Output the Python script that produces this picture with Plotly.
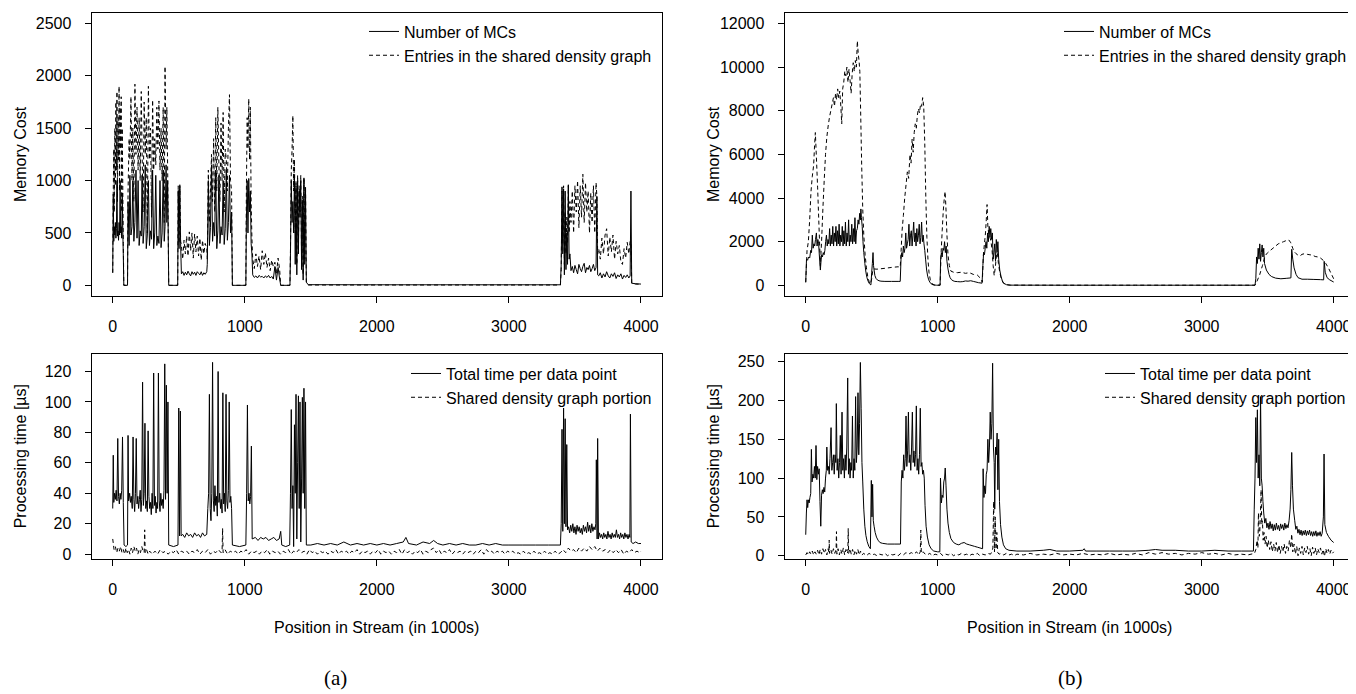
import plotly.graph_objects as go

# ---------------- data (x in 1000s of stream points) ----------------
# (a) memory cost
mem_a_mcs = [
 (0,120),(4,870),(8,420),(12,560),(16,480),(20,600),(24,450),(28,540),(32,1000),(36,470),
 (40,520),(44,430),(48,600),(52,480),(56,1000),(60,500),(64,560),(68,450),(72,880),(76,520),
 (80,300),(84,0),(112,0),
 (116,800),(124,380),(130,1050),(138,480),(146,560),(152,1000),(160,420),(168,600),(176,1100),(184,450),
 (192,1000),(200,380),(208,520),(216,470),(222,1050),(230,400),(238,560),(246,1150),(254,350),(262,480),
 (270,1000),(278,380),(286,520),(294,440),(302,1100),(310,350),(318,500),(326,1050),(334,380),(342,470),
 (350,400),(358,1000),(366,360),(374,500),(382,1100),(390,420),(396,560),(404,1150),(410,600),(416,1000),
 (424,0),(492,0),
 (496,900),(502,350),(508,950),(514,400),(520,110),
 (530,130),(540,95),(550,125),(560,100),(570,135),(580,110),(590,90),(600,130),(610,105),(620,125),
 (630,95),(640,130),(650,115),(660,100),(670,130),(680,95),(690,120),(700,105),(712,130),
 (716,200),(724,1000),(732,380),(740,550),(748,1150),(756,420),(764,600),(772,470),(780,1100),(788,350),
 (796,520),(804,1050),(812,400),(820,560),(828,480),(836,1000),(844,390),(852,540),(860,1100),(868,430),
 (876,600),(884,1050),(892,500),(900,700),
 (906,0),(1008,0),
 (1012,600),(1018,1000),(1024,500),(1030,1020),(1036,700),(1042,900),(1048,400),(1054,300),
 (1060,100),(1072,75),(1084,90),(1096,70),(1108,95),(1120,80),(1132,85),(1144,70),(1156,90),(1168,75),
 (1180,95),(1192,70),(1204,85),(1216,60),(1228,180),(1240,50),(1252,170),(1264,60),
 (1272,0),(1342,0),
 (1346,300),(1352,1000),(1358,600),(1364,800),(1370,500),(1376,1050),(1382,200),(1388,950),(1394,100),(1400,1000),
 (1406,300),(1412,900),(1418,650),(1424,1000),(1430,150),(1436,800),(1442,50),(1448,1020),(1454,200),(1460,900),
 (1466,30),(1480,6),(2000,5),(2500,5),(3000,5),(3390,5),
 (3396,200),(3402,940),(3408,300),(3414,920),(3420,100),(3426,900),(3432,150),(3438,500),(3444,200),(3450,960),
 (3456,250),(3462,300),
 (3470,140),(3480,180),(3490,120),(3500,190),(3510,150),(3520,110),(3530,200),(3540,160),(3550,130),(3560,180),
 (3570,210),(3580,120),(3590,170),(3600,150),(3610,190),(3620,130),(3630,160),(3640,200),(3650,140),(3660,170),
 (3666,850),(3672,100),
 (3680,90),(3692,120),(3704,70),(3716,110),(3728,80),(3740,130),(3752,90),(3764,70),(3776,110),(3788,85),
 (3800,120),(3812,65),(3824,100),(3836,80),(3848,110),(3860,60),(3872,95),(3884,75),(3896,100),(3908,70),
 (3918,90),(3924,900),(3930,20),(3960,15),(4000,12),
]
mem_a_sdg = [
 (0,120),(4,900),(8,1300),(12,700),(16,1500),(20,950),(24,1750),(28,1100),(32,1850),(36,800),
 (40,1600),(44,1200),(48,1900),(52,900),(56,1700),(60,1300),(64,1800),(68,700),(72,1500),(76,950),
 (80,400),(84,0),(112,0),
 (116,900),(124,1400),(130,1200),(138,1800),(146,1000),(152,1500),(160,800),(168,1920),(176,1250),(184,1700),
 (192,1100),(200,1600),(208,1000),(216,1850),(222,1300),(230,700),(238,1750),(246,1250),(254,1600),(262,500),
 (270,1900),(278,1200),(286,1500),(294,650),(302,1770),(310,1100),(318,1400),(326,1150),(334,1700),(342,1300),
 (350,1760),(358,1100),(366,1500),(374,1000),(382,1700),(390,600),(396,2090),(404,1300),(410,1700),(416,1100),
 (424,0),(492,0),
 (496,950),(502,400),(508,960),(514,420),(520,380),
 (530,250),(540,430),(550,300),(560,470),(570,280),(580,510),(590,330),(600,500),(610,260),(620,490),
 (630,320),(640,470),(650,280),(660,450),(670,240),(680,430),(690,300),(700,400),(712,350),
 (716,250),(724,1100),(732,600),(740,900),(748,1250),(756,800),(764,1400),(772,700),(780,1600),(788,900),
 (796,1700),(804,1150),(812,800),(820,1550),(828,1000),(836,1650),(844,700),(852,1300),(860,1200),(868,900),
 (876,1500),(884,1820),(892,1000),(900,900),
 (906,0),(1008,0),
 (1012,900),(1018,1600),(1024,1300),(1030,1780),(1036,1200),(1042,1700),(1048,800),(1054,450),
 (1060,250),(1072,160),(1084,300),(1096,180),(1108,280),(1120,150),(1132,330),(1144,200),(1156,310),(1168,170),
 (1180,260),(1192,140),(1204,240),(1216,180),(1228,220),(1240,110),(1252,260),(1264,150),
 (1272,0),(1342,0),
 (1346,350),(1352,1100),(1358,1300),(1364,1620),(1370,900),(1376,1200),(1382,500),(1388,1000),(1394,200),(1400,1050),
 (1406,400),(1412,950),(1418,700),(1424,1050),(1430,250),(1436,850),(1442,100),(1448,1030),(1454,250),(1460,950),
 (1466,30),(1480,3),(2000,3),(2500,3),(3000,3),(3390,3),
 (3396,150),(3402,900),(3408,400),(3414,950),(3420,200),(3426,700),(3432,300),(3438,650),(3444,400),(3450,950),
 (3456,500),(3462,800),
 (3470,600),(3480,900),(3490,500),(3500,950),(3510,700),(3520,1000),(3530,550),(3540,950),(3550,650),(3560,1060),
 (3570,600),(3580,980),(3590,700),(3600,900),(3610,500),(3620,880),(3630,600),(3640,950),(3650,500),(3660,980),
 (3666,850),(3672,300),
 (3680,350),(3692,250),(3704,450),(3716,300),(3728,480),(3740,540),(3752,280),(3764,460),(3776,320),(3788,480),
 (3800,250),(3812,420),(3824,300),(3836,380),(3848,220),(3860,200),(3872,350),(3884,260),(3896,410),(3908,300),
 (3918,420),(3924,400),(3930,20),(3960,12),(4000,10),
]

# (a) processing time
time_a_total = [
 (0,30),(4,65),(8,34),(14,40),(20,36),(26,42),(32,35),(38,76),(44,38),(50,33),
 (56,40),(62,36),(68,42),(74,77),(80,34),(86,6),(100,5),(112,6),
 (116,78),(120,35),(128,40),(134,34),(140,38),(148,30),(154,77),(160,36),(166,28),(172,40),
 (178,76),(184,33),(190,38),(196,30),(202,36),(208,42),(214,28),(220,36),(226,113),(232,32),
 (238,40),(244,86),(250,30),(256,35),(262,28),(268,81),(274,38),(280,30),(286,34),(292,26),
 (298,40),(304,30),(310,119),(316,32),(322,38),(328,27),(334,34),(340,30),(346,119),(352,35),
 (358,28),(364,40),(370,32),(376,36),(382,30),(388,42),(394,125),(400,36),(406,111),(412,40),
 (418,100),(424,6),(460,5),(494,6),
 (500,96),(506,12),(512,94),(518,12),
 (530,13),(545,11),(560,14),(575,12),(590,13),(605,11),(620,14),(635,12),(650,13),(665,11),
 (680,14),(695,12),(712,13),
 (720,30),(726,40),(732,105),(738,30),(744,22),(750,40),(756,126),(762,35),(768,28),(774,45),
 (780,32),(786,38),(792,25),(798,120),(804,34),(810,40),(816,30),(822,36),(828,27),(834,106),
 (840,33),(846,40),(852,28),(858,105),(864,35),(870,30),(876,42),(882,100),(888,34),(894,38),
 (900,30),(906,6),(960,5),(1008,6),
 (1014,40),(1020,98),(1026,35),(1032,40),(1038,33),(1044,38),(1050,71),
 (1056,10),(1080,11),(1100,9),(1120,11),(1140,10),(1160,11),(1180,9),(1200,10),(1220,11),(1240,9),
 (1260,10),(1272,15),(1280,6),(1310,5),(1340,6),
 (1346,40),(1352,95),(1358,30),(1364,45),(1370,5),(1376,85),(1382,40),(1388,105),(1394,10),(1400,60),
 (1406,104),(1412,30),(1418,100),(1424,8),(1430,50),(1436,103),(1442,40),(1448,109),(1454,30),(1460,100),
 (1466,6),
 (1500,6),(1550,7),(1600,6),(1650,7),(1700,6),(1750,8),(1800,6),(1850,7),(1900,6),(1950,7),
 (2000,6),(2050,7),(2100,6),(2150,7),(2200,8),(2220,11),(2240,7),(2300,6),(2350,8),(2400,7),
 (2430,9),(2460,7),(2500,6),(2550,7),(2600,6),(2650,7),(2700,6),(2750,6),(2800,7),(2850,6),
 (2900,7),(2950,6),(3000,6),(3100,6),(3200,6),(3300,6),(3390,6),
 (3396,20),(3402,82),(3408,15),(3414,96),(3420,20),(3426,89),(3432,18),(3438,72),(3444,16),
 (3452,18),(3460,14),(3468,19),(3476,15),(3484,20),(3492,14),(3500,18),(3508,13),(3516,19),(3524,15),
 (3532,18),(3540,14),(3548,17),(3556,13),(3564,19),(3572,15),(3580,18),(3588,14),(3596,21),(3604,15),
 (3612,19),(3620,14),(3628,20),(3636,15),(3644,18),(3652,16),(3658,20),(3662,62),(3668,10),(3672,76),
 (3678,10),(3686,14),(3694,11),(3702,13),(3710,10),(3718,14),(3726,11),(3734,13),(3742,10),(3750,15),
 (3758,11),(3766,13),(3774,10),(3782,14),(3790,11),(3798,13),(3806,11),(3814,16),(3822,11),(3830,13),
 (3838,10),(3846,14),(3854,11),(3862,13),(3870,10),(3878,14),(3886,11),(3894,13),(3902,10),(3910,13),
 (3916,11),(3920,92),(3926,8),(3940,7),(3960,8),(3980,7),(4000,7),
]
time_a_sdg = [
 (0,10),(10,3),(20,5),(30,1),(40,4),(50,2),(60,5),(70,1),(80,3),(90,0),(100,4),(110,1),(120,3),(130,0),
 (140,4),(150,1),(160,5),(170,2),(180,4),(190,0),(200,3),(210,1),(220,5),(230,2),(238,1),(242,16),(246,1),
 (256,3),(268,0),(280,2),(300,0),(320,2),(340,0),(360,3),(380,1),(400,2),(420,0),(440,2),(460,1),(480,3),
 (500,0),(520,2),(540,1),(560,2),(580,0),(600,2),(620,1),(640,3),(660,0),(680,2),(700,1),(720,3),(740,0),
 (760,2),(780,1),(800,3),(820,1),(828,2),(832,17),(836,1),(850,3),(870,0),(890,2),(910,1),(930,2),(950,0),
 (970,2),(990,1),(1010,3),(1030,0),(1050,2),(1070,1),(1090,2),(1110,0),(1130,2),(1150,1),(1170,3),(1190,0),
 (1210,2),(1230,1),(1250,2),(1270,0),(1290,2),(1310,1),(1330,3),(1350,0),(1370,2),(1390,1),(1410,3),(1430,1),
 (1450,2),(1470,0),(1490,3),(1510,1),(1530,2),(1550,0),(1570,2),(1590,1),(1610,2),(1630,0),(1650,2),(1670,1),
 (1690,3),(1710,0),(1730,2),(1750,1),(1770,2),(1790,0),(1810,2),(1830,1),(1850,3),(1870,0),(1890,2),(1910,1),
 (1930,2),(1950,0),(1970,2),(1990,1),(2010,3),(2030,0),(2050,2),(2070,1),(2090,2),(2110,0),(2130,2),(2150,1),
 (2170,3),(2190,0),(2210,3),(2230,1),(2250,2),(2270,0),(2290,2),(2310,1),(2330,3),(2350,0),(2370,2),(2390,1),
 (2410,3),(2430,4),(2450,1),(2470,3),(2490,0),(2510,2),(2530,1),(2550,3),(2570,0),(2590,2),(2610,1),(2630,2),
 (2650,0),(2670,2),(2690,1),(2710,2),(2730,0),(2750,2),(2770,1),(2790,3),(2810,0),(2830,3),(2850,1),(2870,2),
 (2890,0),(2910,2),(2930,1),(2950,2),(2970,0),(2990,2),(3010,1),(3030,2),(3050,0),(3070,1),(3090,0),(3110,2),
 (3130,0),(3150,1),(3170,0),(3190,2),(3210,0),(3230,1),(3250,0),(3270,2),(3290,0),(3310,1),(3330,0),(3350,2),
 (3370,0),(3390,1),(3410,3),(3430,1),(3450,4),(3470,2),(3490,3),(3510,1),(3530,4),(3550,2),(3570,4),(3590,2),
 (3610,5),(3630,3),(3650,5),(3670,2),(3690,4),(3710,2),(3730,3),(3750,1),(3770,3),(3790,1),(3810,3),(3830,1),
 (3850,3),(3870,0),(3890,2),(3910,1),(3930,3),(3950,1),(3970,2),(3990,1),(4000,2),
]

# (b) memory cost
mem_b_mcs = [
 (0,130),(6,1200),(14,1150),(22,1300),(30,1250),(38,1600),(44,1500),(50,2300),(56,1700),(62,1900),
 (68,1800),(74,2100),(81,2400),(86,1800),(92,2100),(98,1900),(104,1300),(111,700),(117,1200),(121,1400),
 (127,1300),(133,1500),(139,1400),(145,1600),(151,2000),(157,2300),(163,1800),(169,2100),
 (175,1900),(181,2600),(187,1800),(193,2300),(199,1900),(205,2700),(211,1800),(217,2400),(223,2000),(229,2700),
 (235,1800),(241,2500),(247,1900),(253,2800),(259,1800),(265,2300),(271,2000),(277,2700),(283,1800),(289,2500),
 (295,1900),(301,2900),(307,1800),(313,2400),(319,2000),(325,3000),(331,1800),(337,2300),(343,2000),(349,2800),
 (355,1900),(361,2600),(367,2000),(373,3100),(379,1900),(385,2500),(391,2600),(397,3000),(403,2800),(409,3300),
 (414,3000),(418,3500),(422,3100),
 (428,2700),(434,2000),(440,1500),(448,1000),(456,600),(464,350),(472,200),(480,100),(488,40),(494,20),
 (500,600),(505,1000),(510,1500),(514,900),(518,700),(524,450),(532,320),(542,250),(555,210),(570,190),
 (600,180),(650,180),(700,180),(716,180),
 (722,1200),(728,1500),(734,1300),(740,1800),(746,1500),(752,1700),(758,2400),(764,1700),(770,1900),(776,2100),
 (782,2800),(788,1800),(794,2300),(800,2500),(806,1800),(812,2300),(818,2900),(824,2000),(830,2400),(836,1800),
 (842,2600),(848,2000),(854,2300),(860,2800),(866,1900),(872,2200),(878,2900),(884,2000),(890,2300),(896,1900),
 (902,1600),
 (908,1200),(916,700),(924,420),(932,250),(940,150),(950,70),(965,20),(990,5),(1018,5),
 (1022,1200),(1028,1500),(1034,1300),(1040,1700),(1046,1600),(1052,2000),(1058,1500),(1064,1800),(1070,1100),
 (1078,750),(1086,500),(1094,350),(1104,260),(1116,210),(1130,180),(1150,170),(1170,160),(1190,170),(1210,200),
 (1230,190),(1250,210),(1270,180),(1290,150),(1310,120),(1336,100),
 (1342,900),(1348,1500),(1354,1400),(1360,1700),(1366,2000),(1372,1700),(1378,2400),(1384,2000),(1390,2700),
 (1396,2200),(1402,2600),(1408,2100),(1414,2400),(1420,1200),(1426,1500),(1432,1900),(1438,1100),(1444,2100),
 (1450,1500),(1456,2000),(1462,1200),(1470,700),(1480,400),(1490,200),(1500,100),(1520,30),(1550,8),
 (2000,5),(2500,5),(3000,5),(3404,5),
 (3410,300),(3416,1300),(3422,1000),(3428,1700),(3434,1200),(3440,1900),(3446,1100),(3452,1500),(3458,1850),
 (3464,1300),(3470,1700),(3476,1000),(3490,700),(3510,500),(3530,400),(3560,330),(3600,300),(3640,320),
 (3676,340),(3682,1650),(3690,1200),(3700,800),(3715,500),(3730,350),(3760,280),(3800,280),(3850,270),
 (3900,260),(3924,250),(3928,1100),(3936,600),(3950,350),(3970,250),(4000,150),
]
mem_b_sdg = [
 (0,150),(10,1600),(20,2000),(30,3000),(40,4300),(50,5000),(60,5500),(67,6400),(73,7000),(80,6000),
 (90,4500),(100,2800),(111,900),(120,2000),(130,3500),(140,4800),(150,6000),(160,6800),(170,7300),(180,7700),
 (190,8000),(200,8300),(210,8600),(218,8200),(226,8800),(234,8500),(242,9000),(250,8600),(258,8900),(266,8200),
 (273,7400),(280,9000),(288,9300),(296,9800),(304,9600),(312,10000),(320,9300),(328,9900),(336,9400),(344,8800),
 (352,9700),(360,10200),(368,9800),(376,10300),(384,10000),(391,11200),(398,10600),(404,10300),(410,9800),
 (416,8000),(424,5500),(432,3500),(440,2300),(450,1400),(460,800),(470,400),(480,180),(490,60),(500,300),
 (508,700),(516,750),(540,740),(570,760),(600,780),(650,820),(700,850),(716,830),
 (722,1500),(730,2500),(740,3200),(750,4000),(760,4600),(770,5200),(780,4900),(790,6000),(798,5600),(806,6700),
 (814,6100),(822,7000),(830,7400),(838,7200),(846,7800),(854,8100),(862,7900),(870,8300),(878,8200),(886,8600),
 (894,8200),(902,6500),(910,4000),(918,2200),(926,1200),(934,600),(944,250),(956,80),(975,15),(1018,5),
 (1026,1500),(1034,2500),(1042,3400),(1050,4000),(1056,4300),(1062,3600),(1070,2300),(1078,1400),(1088,900),
 (1100,650),(1120,600),(1150,580),(1180,600),(1210,550),(1240,580),(1270,500),(1300,470),(1320,350),(1338,150),
 (1346,1400),(1354,1900),(1362,2400),(1368,3000),(1374,3700),(1380,2700),(1388,2300),(1396,2200),(1404,2000),
 (1412,1600),(1420,900),(1428,450),(1436,800),(1444,1300),(1452,1500),(1460,1000),(1470,600),(1482,300),
 (1495,120),(1515,30),(1550,8),(2000,5),(2500,5),(3000,5),(3404,5),
 (3420,200),(3440,500),(3460,900),(3480,1350),(3500,1500),(3520,1600),(3540,1700),(3560,1800),(3580,1900),
 (3600,1950),(3620,2000),(3640,2050),(3660,2080),(3675,1950),(3690,1700),(3700,1550),(3715,1450),(3730,1380),
 (3745,1350),(3760,1420),(3780,1450),(3800,1420),(3820,1400),(3840,1380),(3860,1320),(3880,1300),(3900,1250),
 (3920,1150),(3940,1000),(3960,800),(3980,550),(4000,300),
]

# (b) processing time
time_b_total = [
 (0,27),(5,55),(10,72),(15,62),(20,72),(26,68),(32,75),(38,80),(43,137),(48,95),
 (54,105),(60,100),(66,115),(72,100),(78,142),(84,98),(90,115),(96,105),(102,112),(108,70),
 (114,38),(120,78),(126,85),(132,80),(138,88),(144,82),(150,100),(156,110),(160,140),(166,110),
 (172,115),(178,105),(184,125),(192,165),(198,110),(204,120),(210,130),(216,105),(222,130),(228,120),
 (232,196),(238,110),(244,125),(250,100),(256,120),(262,155),(268,105),(275,185),(281,110),(287,125),
 (293,100),(299,130),(305,110),(311,140),(318,229),(324,105),(330,125),(336,100),(342,120),(348,110),
 (354,180),(360,100),(366,125),(372,110),(378,205),(384,120),(390,140),(396,210),(402,130),(408,170),
 (414,249),(420,190),(426,120),(432,95),(440,60),(448,38),(456,26),(466,18),(478,12),(490,9),
 (497,97),(502,50),(507,92),(512,45),(518,38),(526,30),(536,24),(548,20),(562,17),(580,16),
 (620,15),(670,15),(718,15),
 (724,95),(730,110),(736,100),(742,130),(748,110),(754,125),(760,180),(766,115),(772,135),(778,185),
 (784,120),(790,130),(796,110),(802,140),(808,185),(814,120),(820,135),(826,115),(832,130),(838,193),
 (844,110),(850,125),(856,105),(862,130),(868,190),(874,115),(880,120),(886,105),(892,110),(898,100),
 (904,65),(912,38),(922,24),(935,14),(950,9),(970,6),(1000,5),(1016,5),
 (1021,100),(1028,68),(1034,78),(1040,75),(1046,95),(1052,100),(1057,113),(1063,90),(1070,60),(1078,42),
 (1088,30),(1100,22),(1120,17),(1140,15),(1160,14),(1180,16),(1200,17),(1220,15),(1240,14),(1260,13),
 (1280,12),(1300,11),(1320,10),(1340,9),
 (1344,112),(1350,75),(1356,90),(1362,80),(1368,105),(1374,110),(1380,150),(1386,120),(1392,140),(1398,185),
 (1404,150),(1410,170),(1416,248),(1422,140),(1428,120),(1432,60),(1438,140),(1444,130),(1450,158),(1456,85),
 (1462,150),(1468,70),(1476,40),(1486,24),(1498,14),(1515,9),(1540,7),
 (1600,6),(1700,6),(1800,7),(1850,8),(1900,6),(2000,6),(2100,7),(2110,9),(2120,6),(2200,6),
 (2300,6),(2400,6),(2500,6),(2600,7),(2650,8),(2700,7),(2800,7),(2900,6),(3000,6),(3100,7),
 (3200,6),(3300,6),(3392,6),
 (3398,60),(3404,100),(3410,178),(3416,120),(3422,188),(3428,100),(3434,130),(3440,90),(3446,205),(3452,100),
 (3458,90),(3464,70),(3470,55),(3478,42),(3486,48),(3494,36),(3502,42),(3510,34),(3518,44),(3526,35),
 (3534,41),(3542,32),(3550,40),(3558,33),(3566,42),(3574,34),(3582,39),(3590,32),(3598,41),(3606,35),
 (3614,40),(3622,33),(3630,42),(3638,35),(3646,40),(3654,36),(3662,45),(3670,60),(3676,85),(3682,133),
 (3688,90),(3695,60),(3705,45),(3713,34),(3721,38),(3729,29),(3737,34),(3745,27),(3753,33),(3761,26),
 (3769,32),(3777,27),(3785,33),(3793,26),(3801,32),(3809,27),(3817,33),(3825,26),(3833,31),(3841,25),
 (3849,31),(3857,26),(3865,32),(3873,25),(3881,30),(3889,26),(3897,31),(3905,25),(3913,29),(3922,50),
 (3927,131),(3933,40),(3945,30),(3960,25),(3980,20),(4000,17),
]
time_b_sdg = [
 (0,1),(10,4),(20,1),(30,5),(40,2),(50,6),(60,1),(70,5),(80,2),(90,7),(100,1),(110,8),(120,2),(130,9),
 (140,3),(150,8),(160,1),(170,9),(176,4),(178,20),(180,3),(190,8),(200,2),(210,9),(220,3),(230,8),(233,31),
 (236,2),(245,9),(255,1),(265,8),(275,2),(285,10),(295,1),(305,8),(315,3),(319,5),(322,35),(325,3),(335,9),
 (345,2),(355,8),(365,1),(375,7),(385,2),(395,8),(405,1),(415,6),(425,1),(440,3),(460,0),(480,3),(500,1),
 (520,2),(540,0),(560,2),(580,1),(600,3),(620,0),(640,2),(660,1),(680,2),(700,0),(720,3),(740,1),(760,4),
 (780,2),(800,4),(820,2),(840,5),(855,1),(868,5),(872,33),(876,3),(890,5),(905,2),(920,1),(940,3),(960,0),
 (980,2),(1000,1),(1020,3),(1040,0),(1060,2),(1080,1),(1100,3),(1120,0),(1140,2),(1160,1),(1180,3),(1200,1),
 (1220,2),(1240,0),(1260,2),(1280,1),(1300,3),(1320,0),(1340,2),(1360,1),(1380,3),(1400,2),(1410,5),(1418,10),
 (1424,70),(1430,5),(1436,50),(1442,8),(1448,30),(1455,4),(1465,2),(1480,3),(1500,1),(1520,3),(1540,1),
 (1560,2),(1580,0),(1600,2),(1650,1),(1700,3),(1750,1),(1800,2),(1850,1),(1900,3),(1950,1),(2000,2),(2050,1),
 (2100,3),(2150,1),(2200,2),(2250,1),(2300,3),(2350,1),(2400,2),(2450,1),(2500,3),(2550,1),(2600,4),(2650,2),
 (2700,4),(2750,2),(2800,3),(2850,1),(2900,3),(2950,2),(3000,4),(3050,2),(3100,3),(3150,1),(3200,3),(3250,1),
 (3300,2),(3350,1),(3400,3),(3410,8),(3420,20),(3426,10),(3430,55),(3436,25),(3440,30),(3446,60),(3450,85),
 (3455,40),(3460,45),(3466,20),(3472,30),(3480,15),(3488,25),(3496,10),(3505,20),(3515,8),(3525,18),(3535,5),
 (3545,15),(3555,6),(3565,17),(3575,4),(3585,14),(3595,3),(3605,12),(3615,5),(3625,15),(3635,3),(3645,12),
 (3655,6),(3665,20),(3675,10),(3682,28),(3690,5),(3700,15),(3710,2),(3720,12),(3730,0),(3740,10),(3750,3),
 (3760,12),(3770,1),(3780,10),(3790,4),(3800,12),(3810,2),(3820,9),(3830,0),(3840,11),(3850,3),(3860,10),
 (3870,1),(3880,9),(3890,4),(3900,10),(3910,2),(3920,8),(3930,-1),(3940,9),(3950,3),(3960,8),(3970,2),
 (3980,7),(3990,3),(4000,5),
]

x_ticks = [0, 1000, 2000, 3000, 4000]
mem_a_ticks = [0, 500, 1000, 1500, 2000, 2500]
mem_b_ticks = [0, 2000, 4000, 6000, 8000, 10000, 12000]
time_a_ticks = [0, 20, 40, 60, 80, 100, 120]
time_b_ticks = [0, 50, 100, 150, 200, 250]

mem_names = ["Number of MCs", "Entries in the shared density graph"]
time_names = ["Total time per data point", "Shared density graph portion"]

# ---------------- layout helpers ----------------
FONT = "Liberation Sans"
W, H = 1356, 694
BOX = {  # left, right, top, bottom (px)
    1: (83.6, 654.1, 4.0, 289.3),
    2: (776.6, 1346.8, 4.0, 289.3),
    3: (83.6, 654.1, 348.3, 555.0),
    4: (776.6, 1346.8, 348.3, 555.0),
}

panels = [
    (1, mem_a_mcs, mem_a_sdg, mem_names, mem_a_ticks, [-100, 2600], "legend", 396, 24),
    (2, mem_b_mcs, mem_b_sdg, mem_names, mem_b_ticks, [-480, 12480], "legend2", 1091, 24),
    (3, time_a_total, time_a_sdg, time_names, time_a_ticks, [-3.3, 131.3], "legend3", 438, 369),
    (4, time_b_total, time_b_sdg, time_names, time_b_ticks, [-4.5, 259.5], "legend4", 1132, 369),
]

fig = go.Figure()
layout = dict(
    width=W, height=H, margin=dict(l=0, r=0, t=0, b=0),
    paper_bgcolor="white", plot_bgcolor="white", hovermode=False,
    font=dict(family=FONT, size=16, color="black"),
)

for i, solid, dashed, names, yt, yr, leg, text_x, row_y in panels:
    sfx = "" if i == 1 else str(i)
    l, r, t, b = BOX[i]
    for data, name, dash in ((solid, names[0], "solid"), (dashed, names[1], "4px,3px")):
        fig.add_trace(go.Scatter(
            x=[p[0] for p in data], y=[p[1] for p in data], mode="lines", name=name,
            line=dict(color="black", width=1, dash=dash, simplify=False),
            xaxis="x" + sfx, yaxis="y" + sfx, legend=leg, showlegend=True,
        ))
    common = dict(showline=True, mirror=True, linecolor="black", linewidth=1,
                  ticks="outside", ticklen=6, tickcolor="black", tickwidth=1,
                  showgrid=False, zeroline=False, ticklabelstandoff=10,
                  tickfont=dict(family=FONT, size=16, color="black"))
    layout["xaxis" + sfx] = dict(domain=[l / W, r / W], anchor="y" + sfx, range=[-160, 4160],
                                 tickvals=x_ticks, ticktext=[str(v) for v in x_ticks], **common)
    layout["yaxis" + sfx] = dict(domain=[1 - b / H, 1 - t / H], anchor="x" + sfx, range=yr,
                                 tickvals=yt, ticktext=[str(v) for v in yt], **common)
    layout[leg] = dict(x=(text_x - 40) / W, y=1 - (row_y - 18.4) / H, xanchor="left", yanchor="top",
                       bgcolor="rgba(0,0,0,0)", borderwidth=0, tracegroupgap=0,
                       font=dict(family=FONT, size=16, color="black"))

ann = []
for i, title in ((1, "Memory Cost"), (2, "Memory Cost"), (3, "Processing time [µs]"), (4, "Processing time [µs]")):
    l, r, t, b = BOX[i]
    ann.append(dict(text=title, x=(l - 71) / W, y=1 - (t + b) / 2 / H, xref="paper", yref="paper",
                    textangle=-90, showarrow=False, xanchor="center", yanchor="middle",
                    font=dict(family=FONT, size=16, color="black")))
for i in (3, 4):
    ann.append(dict(text="Position in Stream (in 1000s)", x=0.5, y=1 - 624 / H,
                    xref="x%d domain" % i, yref="paper", showarrow=False,
                    xanchor="center", yanchor="middle", font=dict(family=FONT, size=16, color="black")))
for label, cx in (("(a)", 327), ("(b)", 1062)):
    ann.append(dict(text=label, x=cx / W, y=1 - 675 / H, xref="paper", yref="paper", showarrow=False,
                    xanchor="center", yanchor="middle",
                    font=dict(family="Liberation Serif", size=21, color="black")))
layout["annotations"] = ann

fig.update_layout(**layout)
fig.write_html("out.html")
